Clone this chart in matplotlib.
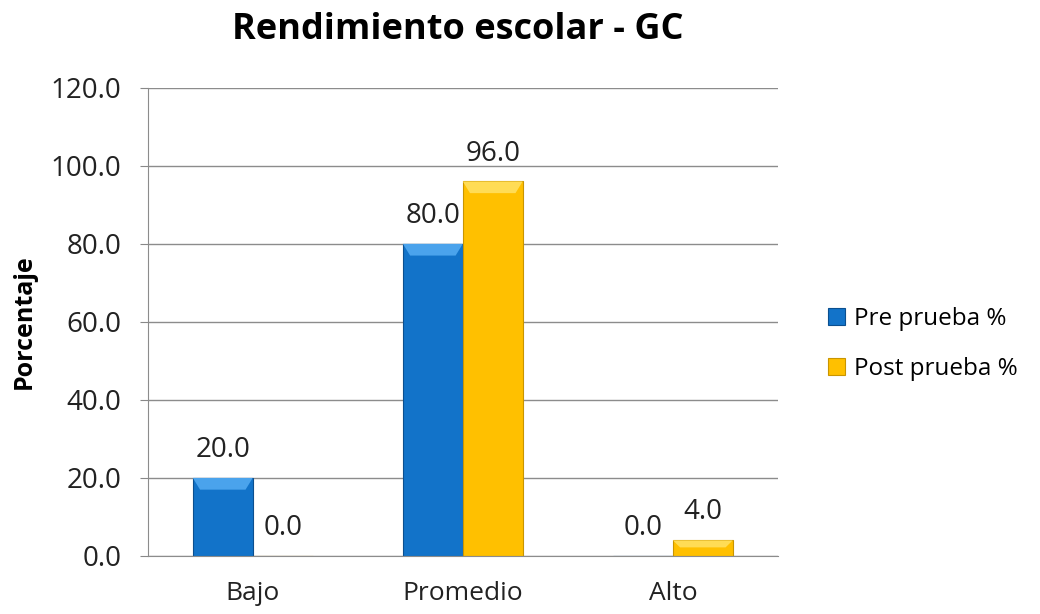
import numpy as np
import matplotlib.pyplot as plt
from matplotlib.patches import Polygon

plt.rcParams['font.family'] = ['Open Sans', 'DejaVu Sans']

categories = ['Bajo', 'Promedio', 'Alto']
pre_prueba = [20.0, 80.0, 0.0]
post_prueba = [0.0, 96.0, 4.0]
series_names = ['Pre prueba %', 'Post prueba %']
y_ticks = [0, 20, 40, 60, 80, 100, 120]

colors = ['#1273c9', '#ffc000']
edges = ['#0b4f8f', '#c99500']
tops = ['#4aa3ec', '#ffdc55']


def add_bevel(ax, bars, top_color):
    # lighter slanted strip at the top of each bar, to mimic the office bevel look
    for b in bars:
        x0, y0 = b.get_x(), b.get_y()
        w, h = b.get_width(), b.get_height()
        if h <= 0:
            continue
        inset = w * 0.12
        dy = min(3.0, h * 0.45)
        poly = Polygon([(x0, y0 + h), (x0 + w, y0 + h),
                        (x0 + w - inset, y0 + h - dy), (x0 + inset, y0 + h - dy)],
                       closed=True, facecolor=top_color, edgecolor='none', zorder=3)
        ax.add_patch(poly)


fig = plt.figure(figsize=(10.4, 6.14), dpi=100)
ax = fig.add_axes([0.142, 0.0945, 0.606, 0.7625])

x = np.arange(len(categories))
width = 0.285

b1 = ax.bar(x - width / 2, pre_prueba, width, color=colors[0], edgecolor=edges[0],
            linewidth=0.8, zorder=2, label=series_names[0])
b2 = ax.bar(x + width / 2, post_prueba, width, color=colors[1], edgecolor=edges[1],
            linewidth=0.8, zorder=2, label=series_names[1])
add_bevel(ax, b1, tops[0])
add_bevel(ax, b2, tops[1])

for bars in (b1, b2):
    for b in bars:
        h = b.get_height()
        ax.annotate(f'{h:.1f}', (b.get_x() + b.get_width() / 2, h),
                    xytext=(0, 10), textcoords='offset points',
                    ha='center', va='bottom', fontsize=20, color='#222222')

ax.set_xlim(-0.5, len(categories) - 0.5)
ax.set_ylim(0, 120)
ax.set_yticks(y_ticks)
ax.set_yticklabels([f'{v:.1f}' for v in y_ticks], fontsize=20, color='#222222')
ax.set_xticks(x)
ax.set_xticklabels(categories, fontsize=19, color='#222222')
ax.tick_params(axis='x', length=0, pad=18)
ax.tick_params(axis='y', length=6, color='#888888', pad=13)

ax.grid(axis='y', color='#8c8c8c', linewidth=1)
ax.set_axisbelow(True)
for s in ['top', 'right']:
    ax.spines[s].set_visible(False)
ax.spines['left'].set_color('#8c8c8c')
ax.spines['bottom'].set_color('#8c8c8c')

ax.set_ylabel('Porcentaje', fontsize=18, fontweight='bold', labelpad=10)
fig.text(0.44, 0.951, 'Rendimiento escolar - GC', fontsize=26, fontweight='bold',
         ha='center', va='center')

ax.legend(loc='center left', bbox_to_anchor=(1.045, 0.453), frameon=False,
          fontsize=17.5, handlelength=0.7, handleheight=0.7, handletextpad=0.35,
          labelspacing=1.1)

fig.savefig('out.png', dpi=100)
